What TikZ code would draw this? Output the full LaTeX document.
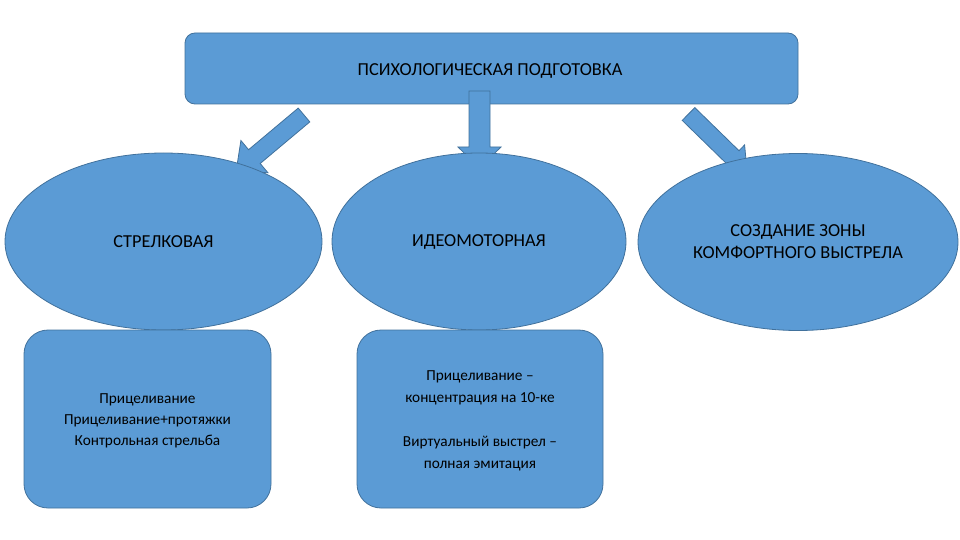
\documentclass[tikz,border=0pt]{standalone}
\usepackage{fontspec}
\setmainfont{Carlito}
\usetikzlibrary{shapes.geometric}
\definecolor{boxfill}{HTML}{5B9BD5}
\definecolor{boxline}{HTML}{41719C}
\begin{document}
\begin{tikzpicture}[x=1pt,y=-1pt,
  blk/.style={fill=boxfill,draw=boxline,line width=0.8pt},
  oval/.style={blk,ellipse,inner sep=0pt,align=center,font=\fontsize{18.3}{22}\selectfont},
  rbox/.style={blk,rounded corners=24pt},
  btext/.style={align=center,font=\fontsize{15.3}{21}\selectfont},
  barrow/.style={blk,line join=miter}]
\useasboundingbox (0,0) rectangle (960,540);
% top box
\draw[blk,rounded corners=10pt] (185,33) rectangle (798,104);
\node[font=\fontsize{18.3}{22}\selectfont] (top) at (490,70.5) {ПСИХОЛОГИЧЕСКАЯ ПОДГОТОВКА};
% block arrows
\draw[barrow] (298.2,108.1) -- (248.6,149.7) -- (240.9,140.5) -- (236,172) -- (267.9,172.7) -- (260.2,163.5) -- (309.8,121.9) -- cycle;
\draw[barrow] (469,91) -- (469,147) -- (458,147) -- (479.5,168) -- (501,147) -- (490,147) -- (490,91) -- cycle;
\draw[barrow] (694.8,107.6) -- (739.0,150.7) -- (744.6,144.9) -- (747,171) -- (720.8,169.3) -- (726.4,163.5) -- (682.2,120.4) -- cycle;
% ellipses
\node[oval,minimum width=317pt,minimum height=177pt] (strel) at (163.5,241.5) {СТРЕЛКОВАЯ};
\node[oval,minimum width=294pt,minimum height=177pt] (ideo) at (479,241.5) {ИДЕОМОТОРНАЯ};
\node[oval,minimum width=320pt,minimum height=177pt] (zone) at (798,242) {СОЗДАНИЕ ЗОНЫ\\КОМФОРТНОГО ВЫСТРЕЛА};
% bottom boxes
\draw[rbox] (24,330) rectangle (271,508);
\node[btext] (t1) at (147.5,420.5) {Прицеливание\\Прицеливание+протяжки\\Контрольная стрельба};
\draw[rbox] (357,330) rectangle (603,508);
\node[btext,font=\fontsize{15.3}{22}\selectfont] (t2) at (480,421) {Прицеливание –\\концентрация на 10-ке\\[22pt]Виртуальный выстрел –\\полная эмитация};
\end{tikzpicture}
\end{document}
